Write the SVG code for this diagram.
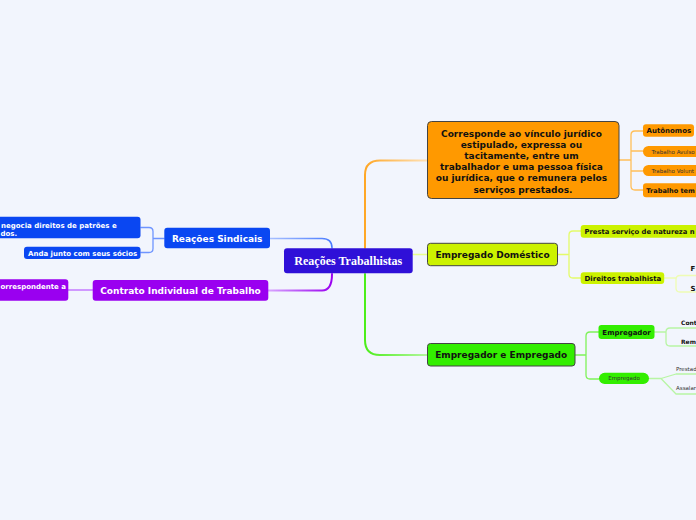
<svg xmlns="http://www.w3.org/2000/svg" width="696" height="520" viewBox="0 0 696 520">
<defs>
<linearGradient id="gO" gradientUnits="userSpaceOnUse" x1="365" y1="0" x2="428" y2="0"><stop offset="0" stop-color="#ffa726"/><stop offset="1" stop-color="#ffe2b8"/></linearGradient>
<linearGradient id="gG" gradientUnits="userSpaceOnUse" x1="365" y1="0" x2="428" y2="0"><stop offset="0" stop-color="#4cee1a"/><stop offset="1" stop-color="#b5f7a0"/></linearGradient>
<linearGradient id="gB" gradientUnits="userSpaceOnUse" x1="270" y1="0" x2="332" y2="0"><stop offset="0" stop-color="#a8c0ff"/><stop offset="1" stop-color="#4a7bff"/></linearGradient>
<linearGradient id="gP" gradientUnits="userSpaceOnUse" x1="268" y1="0" x2="332" y2="0"><stop offset="0" stop-color="#d9a6ff"/><stop offset="1" stop-color="#9a00f0"/></linearGradient>
</defs>
<style>
.bg{fill:#f2f5fd}
.main{stroke:#444;stroke-width:1}
.t{font-family:"DejaVu Sans",Verdana,sans-serif;font-weight:bold;fill:#111}
.w{fill:#fff}
.s{font-family:"DejaVu Sans",Verdana,sans-serif;font-size:5.5px;fill:#333}
.c{fill:none;stroke-linecap:round;stroke-linejoin:round}
.mid{text-anchor:middle}
</style>
<rect class="bg" width="696" height="520"/>
<g id="connectors">
<path class="c" d="M365,248 V175 Q365,160.5 380,160.5 H428" stroke="url(#gO)" stroke-width="2"/>
<path class="c" d="M365,274 V340 Q365,355 380,355 H428" stroke="url(#gG)" stroke-width="2"/>
<path class="c" d="M413,254.5 H428" stroke="#e9ff8c" stroke-width="1.5"/>
<path class="c" d="M270,238.5 H322 Q332,238.5 332,248" stroke="url(#gB)" stroke-width="1.5"/>
<path class="c" d="M268,290.5 H322 Q332,290.5 332,274" stroke="url(#gP)" stroke-width="2"/>
<path class="c" d="M619,160 H631 M643,131 H635 Q631,131 631,135 V186 Q631,190 635,190 H643 M631,151 H643 M631,171 H643" stroke="#ffbf59" stroke-width="1.3"/>
<path class="c" d="M557,254.5 H569 M581,231 H573 Q569,231 569,235 V274 Q569,278 573,278 H581" stroke="#e4fb6a" stroke-width="1.3"/>
<path class="c" d="M664,278 H676 M696,275.5 H680 Q676,275.5 676,279.5 V288 Q676,292 680,292 H696" stroke="#eefcb4" stroke-width="1.3"/>
<path class="c" d="M575,355 H586 M599,332 H590 Q586,332 586,336 V375 Q586,379 590,379 H599" stroke="#7ff25a" stroke-width="1.3"/>
<path class="c" d="M654,332 H666 M696,328 H670 Q666,328 666,332 V342 Q666,346 670,346 H696" stroke="#b8f5a4" stroke-width="1.3"/>
<path class="c" d="M649,378.5 H661 L676,374 H696 M661,378.5 L676,394 H696" stroke="#b8f5a4" stroke-width="1.3"/>
<path class="c" d="M164,238.5 H153 M141,227.5 H149 Q153,227.5 153,231.5 V248.5 Q153,252.5 149,252.5 H141" stroke="#6f95ff" stroke-width="1.3"/>
<path class="c" d="M68,290 H92.5" stroke="#c57bff" stroke-width="1.3"/>
</g>
<g id="central">
<rect x="284" y="248.3" width="128.7" height="25" rx="3" fill="#2f10d8"/>
<text x="348.3" y="265" class="mid" font-family="'Liberation Serif','Times New Roman',serif" font-weight="bold" font-size="12" fill="#fff">Reações Trabalhistas</text>
</g>
<g id="n-orange">
<rect class="main" x="427.5" y="121.5" width="191.5" height="77" rx="4" fill="#ff9900"/>
<text class="t mid" font-size="9">
<tspan x="523" y="136.6">Corresponde ao vínculo jurídico</tspan>
<tspan x="523" y="147.8">estipulado, expressa ou</tspan>
<tspan x="523" y="159">tacitamente, entre um</tspan>
<tspan x="523" y="170.2">trabalhador e uma pessoa física</tspan>
<tspan x="523" y="181.4">ou jurídica, que o remunera pelos</tspan>
<tspan x="523" y="192.6">serviços prestados.</tspan>
</text>
</g>
<g id="n-autonomos"><rect x="643" y="124.3" width="51" height="12.5" rx="3" fill="#ff9900"/><text class="t" x="646.5" y="133.2" font-size="7">Autônomos</text></g>
<g id="n-avulso"><rect x="643" y="146" width="62" height="11" rx="5.5" fill="#ff9900"/><text class="s" x="651.5" y="153.5">Trabalho Avulso</text></g>
<g id="n-voluntario"><rect x="643" y="165" width="62" height="11" rx="5.5" fill="#ff9900"/><text class="s" x="651.5" y="172.5">Trabalho Volunt</text></g>
<g id="n-temporario"><rect x="643" y="183.3" width="62" height="14" rx="3" fill="#ff9900"/><text class="t" x="646.3" y="193.2" font-size="6.55">Trabalho tem</text></g>
<g id="n-domestico">
<rect class="main" x="427.5" y="243.3" width="130" height="22.4" rx="3" fill="#ccf200"/>
<text class="t mid" x="492.5" y="257.8" font-size="9">Empregado Doméstico</text>
</g>
<g id="n-presta"><rect x="580.7" y="225" width="120" height="12.7" rx="3" fill="#ccf200"/><text class="t" x="584.5" y="234" font-size="6.8">Presta serviço de natureza n</text></g>
<g id="n-direitos"><rect x="580.7" y="272.3" width="83.5" height="11.7" rx="3" fill="#ccf200"/><text class="t" x="584.5" y="280.8" font-size="7">Direitos trabalhista</text></g>
<g id="n-f"><text class="t" x="690.5" y="271" font-size="7">F</text></g>
<g id="n-s"><text class="t" x="690.5" y="290.5" font-size="7">S</text></g>
<g id="n-emp">
<rect class="main" x="427.5" y="343.5" width="147.5" height="22.5" rx="3" fill="#33ee00"/>
<text class="t mid" x="501.2" y="358.2" font-size="9">Empregador e Empregado</text>
</g>
<g id="n-empregador"><rect x="598.5" y="325" width="56" height="14" rx="3" fill="#33ee00"/><text class="t mid" x="626.5" y="334.6" font-size="7">Empregador</text></g>
<g id="n-empregado"><rect x="599" y="372.8" width="50" height="11.2" rx="5.6" fill="#33ee00"/><text class="s mid" x="624" y="380.4">Empregado</text></g>
<g id="n-cont"><text class="t" x="681" y="324.5" font-size="6">Cont</text></g>
<g id="n-rem"><text class="t" x="681" y="344" font-size="6">Rem</text></g>
<g id="n-prestad"><text class="s" x="676" y="371.3">Prestad</text></g>
<g id="n-assalar"><text class="s" x="676" y="390.3">Assalar</text></g>
<g id="n-sindicais">
<rect x="164.3" y="227.7" width="105.7" height="20.6" rx="3" fill="#0a47f2"/>
<text class="t w mid" x="217.2" y="241.5" font-size="9">Reações Sindicais</text>
</g>
<g id="n-negocia">
<rect x="-10" y="216.7" width="150.5" height="21.6" rx="3" fill="#0a47f2"/>
<text class="t w" font-size="7"><tspan x="1" y="227.5">negocia direitos de patrões e</tspan><tspan x="0.5" y="236">dos.</tspan></text>
</g>
<g id="n-anda">
<rect x="24" y="246.7" width="116.5" height="12.3" rx="3" fill="#0a47f2"/>
<text class="t w" x="28" y="255.8" font-size="7">Anda junto com seus sócios</text>
</g>
<g id="n-contrato">
<rect x="92.7" y="280" width="175.6" height="20.7" rx="3" fill="#9a00f0"/>
<text class="t w mid" x="180.5" y="293.6" font-size="9">Contrato Individual de Trabalho</text>
</g>
<g id="n-correspondente">
<rect x="-10" y="279.3" width="78.3" height="21.4" rx="3" fill="#9a00f0"/>
<text class="t w" x="0.5" y="288.6" font-size="7">orrespondente a</text>
</g>
</svg>
